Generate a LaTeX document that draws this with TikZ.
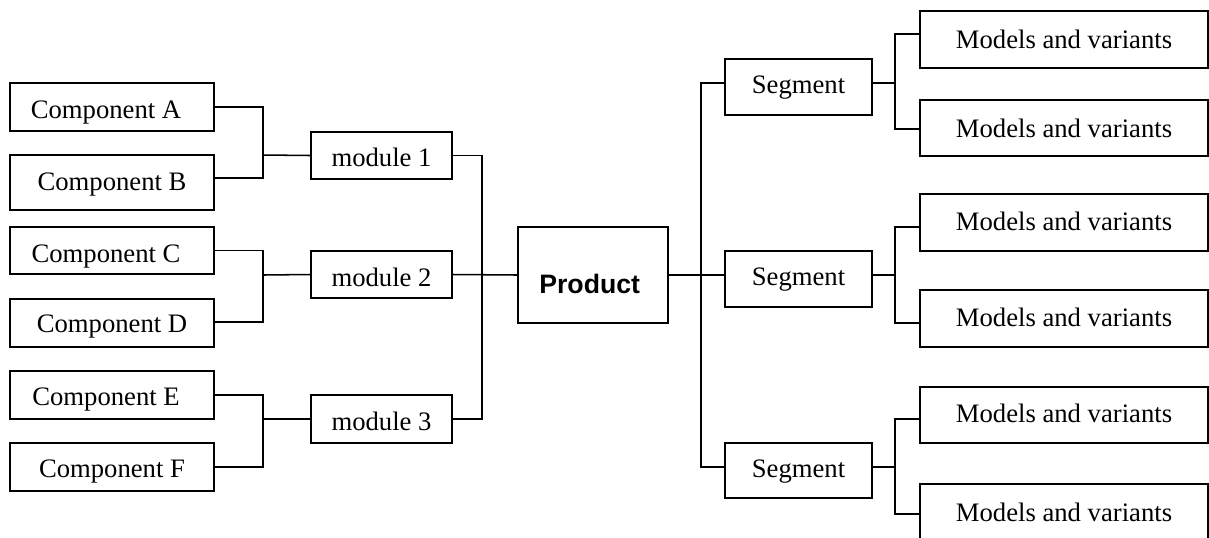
\documentclass[tikz,border=0pt]{standalone}
\usepackage{fontspec}
\setmainfont{Liberation Serif}
\newfontfamily\prodfont{Liberation Sans}
\begin{document}
\begin{tikzpicture}[x=0.75pt,y=-0.75pt,
  box/.style={draw=black, line width=1.2pt, fill=white, inner sep=0pt,
    font=\fontsize{20}{24}\selectfont},
  comp/.style={box, minimum width=153pt},
  modbox/.style={box, minimum width=105.75pt},
  segbox/.style={box, minimum width=110.25pt},
  varbox/.style={box, minimum width=216pt},
  conn/.style={draw=black, line width=1.15pt}]
\useasboundingbox (0,0) rectangle (1209,537);
\clip (0,0) rectangle (1209,537);
\fill[white] (0,0) rectangle (1209,537);
% components
\node[comp, text height=26.25pt, text depth=9.75pt] (cA) at (112,107) {Component A\kern9pt};
\node[comp, text height=26.25pt, text depth=15pt] (cB) at (112,182.5) {Component B};
\node[comp, text height=26.25pt, text depth=9pt] (cC) at (112,250.5) {Component C\kern9pt};
\node[comp, text height=24.75pt, text depth=11.25pt] (cD) at (112,323) {Component D};
\node[comp, text height=25.5pt, text depth=10.5pt] (cE) at (112,395) {Component E\kern9pt};
\node[comp, text height=25.5pt, text depth=10.5pt] (cF) at (112,467) {Component F};
% modules
\node[modbox, text height=25.5pt, text depth=9.75pt] (m1) at (381.5,155.5) {module 1};
\node[modbox, text height=26.25pt, text depth=9pt] (m2) at (381.5,274.5) {module 2};
\node[modbox, text height=26.25pt, text depth=9.75pt] (m3) at (381.5,419) {module 3};
% product
\node[box, minimum width=112.5pt, text height=49.5pt, text depth=22.5pt, font=\prodfont\bfseries\fontsize{20}{24}\selectfont] (P) at (593,275) {Product\kern5pt};
% segments
\node[segbox, text height=25.5pt, text depth=16.5pt] (s1) at (798.5,87) {Segment};
\node[segbox, text height=25.5pt, text depth=16.5pt] (s2) at (798.5,279) {Segment};
\node[segbox, text height=25.5pt, text depth=15.75pt] (s3) at (798.5,470.5) {Segment};
% models
\node[varbox, text height=27.75pt, text depth=15pt] (v1) at (1064,39.5) {Models and variants};
\node[varbox, text height=27.75pt, text depth=14.25pt] (v2) at (1064,128) {Models and variants};
\node[varbox, text height=27pt, text depth=15.75pt] (v3) at (1064,222.5) {Models and variants};
\node[varbox, text height=27pt, text depth=15.75pt] (v4) at (1064,318.5) {Models and variants};
\node[varbox, text height=26.25pt, text depth=15.75pt] (v5) at (1064,415) {Models and variants};
\node[varbox, text height=28.25pt, text depth=14.5pt] (v6) at (1064,512.5) {Models and variants};
% junctions
\coordinate (j1) at (263,155);
\coordinate (j2) at (263,275);
\coordinate (j3) at (263,419);
\coordinate (jL) at (482,275);
\coordinate (jR) at (701,275);
\coordinate (k1) at (895,83);
\coordinate (k2) at (895,275);
\coordinate (k3) at (895,467);
% left connectors
\draw[conn] (cA.east) -| (j1);
\draw[conn] ([yshift=3.375pt]cB.east) -| (j1);
\draw[conn] (j1) -- (m1.west);
\draw[conn] (cC.east) -| (j2);
\draw[conn] ([yshift=0.75pt]cD.east) -| (j2);
\draw[conn] (j2) -- (m2.west);
\draw[conn] (cE.east) -| (j3);
\draw[conn] (cF.east) -| (j3);
\draw[conn] (j3) -- (m3.west);
\draw[conn] (m1.east) -| (jL);
\draw[conn] (m3.east) -| (jL);
\draw[conn] (m2.east) -- (P.west);
% right connectors
\draw[conn] (P.east) -- ([yshift=3pt]s2.west);
\draw[conn] ([yshift=3pt]s1.west) -| (jR);
\draw[conn] ([yshift=2.625pt]s3.west) -| (jR);
\draw[conn] ([yshift=3pt]s1.east) -- (k1);
\draw[conn] (k1) |- ([yshift=4.125pt]v1.west);
\draw[conn] (k1) |- ([yshift=-0.75pt]v2.west);
\draw[conn] ([yshift=3pt]s2.east) -- (k2);
\draw[conn] (k2) |- ([yshift=-3.375pt]v3.west);
\draw[conn] (k2) |- ([yshift=-3.375pt]v4.west);
\draw[conn] ([yshift=2.625pt]s3.east) -- (k3);
\draw[conn] (k3) |- ([yshift=-3pt]v5.west);
\draw[conn] (k3) |- ([yshift=-1.125pt]v6.west);
\end{tikzpicture}
\end{document}
